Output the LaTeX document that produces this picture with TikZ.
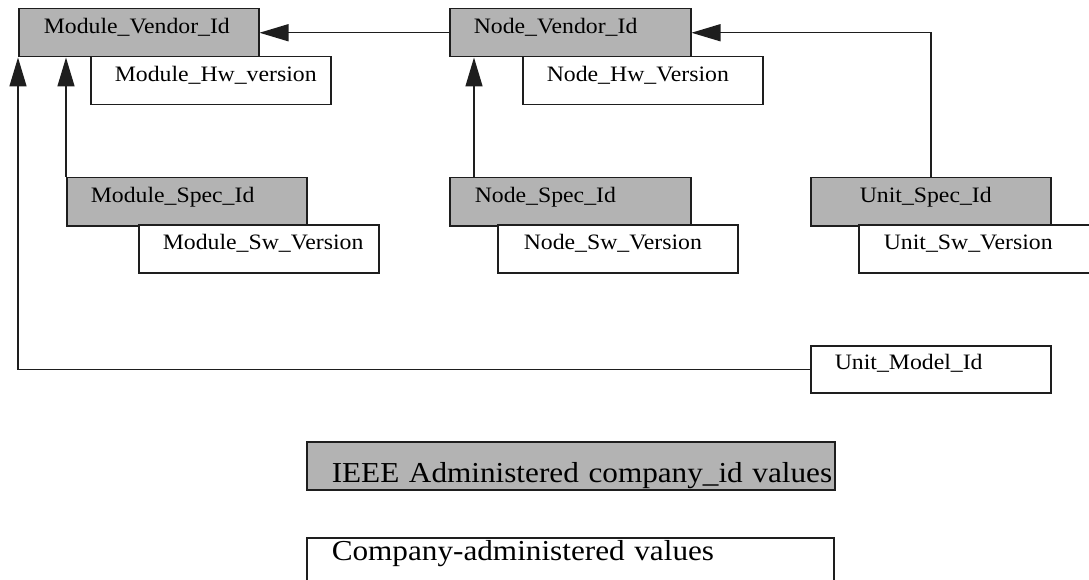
\documentclass[tikz,border=0pt]{standalone}
\usepackage{fontspec}
\setmainfont{Liberation Serif}[FakeStretch=1.08]
\usetikzlibrary{arrows.meta}
\definecolor{boxgray}{RGB}{179,179,179}
\definecolor{ink}{RGB}{30,30,30}
\tikzset{
  idbox/.style={draw=ink, line width=1.5pt, rectangle, anchor=north west,
    inner xsep=0pt, inner ysep=0pt, text width=#1, align=left,
    text height=25pt, text depth=23pt,
    font=\fontsize{22}{26}\selectfont},
  idbox/.default=240pt,
  grayid/.style={idbox, fill=boxgray},
  whiteid/.style={idbox, fill=white},
  legendfont/.style={font=\fontsize{28.9}{34}\selectfont},
  arr/.style={draw=ink, line width=1.5pt, -{Triangle[length=29pt,width=17pt]}},
  plain/.style={draw=ink, line width=1.5pt}
}
\begin{document}
\begin{tikzpicture}[x=1pt,y=-1pt]
\useasboundingbox (0,0) rectangle (1089,580);
\clip (0,0) rectangle (1089,580);
% top row
\node[grayid] (mv) at (18,8) {\hspace*{25pt}\mbox{Module\_Vendor\_Id}};
\node[whiteid] (mh) at (90,56) {\hspace*{24pt}\mbox{Module\_Hw\_version}};
\node[grayid, text width=241pt] (nv) at (449,8) {\hspace*{24pt}\mbox{Node\_Vendor\_Id}};
\node[whiteid] (nh) at (522,56) {\hspace*{24pt}\mbox{Node\_Hw\_Version}};
% middle row
\node[grayid] (ms) at (66,177) {\hspace*{24pt}\mbox{Module\_Spec\_Id}};
\node[whiteid] (msw) at (138,224) {\hspace*{24pt}\mbox{Module\_Sw\_Version}};
\node[grayid, text width=241pt] (ns) at (449,177) {\hspace*{25pt}\mbox{Node\_Spec\_Id}};
\node[whiteid] (nsw) at (497,224) {\hspace*{26pt}\mbox{Node\_Sw\_Version}};
\node[grayid] (us) at (810,177) {\hspace*{49pt}\mbox{Unit\_Spec\_Id}};
\node[whiteid] (usw) at (858,224) {\hspace*{25pt}\mbox{Unit\_Sw\_Version}};
% unit model
\node[whiteid, text height=24pt, text depth=23pt] (um) at (810,345) {\hspace*{24pt}\mbox{Unit\_Model\_Id}};
% legend
\node[grayid, legendfont, text width=528pt, text height=41pt, text depth=7pt] (ieee) at (306,441) {\hspace*{25pt}\rlap{IEEE Administered company\_id values}};
\node[whiteid, legendfont, text width=527pt, text height=23pt, text depth=27pt] (comp) at (306,537) {\hspace*{25pt}\mbox{Company-administered values}};
% connectors
\draw[arr] (nv.west) -- (mv.east);
\draw[arr] (us.north) |- (nv.east);
\draw[arr] ([xshift=25pt]ns.north west) -- ([xshift=25pt]nv.south west);
\draw[arr] (ms.north west) -- (ms.north west |- mv.south);
\draw[arr] (um.west) -| (mv.south west);
\end{tikzpicture}
\end{document}
